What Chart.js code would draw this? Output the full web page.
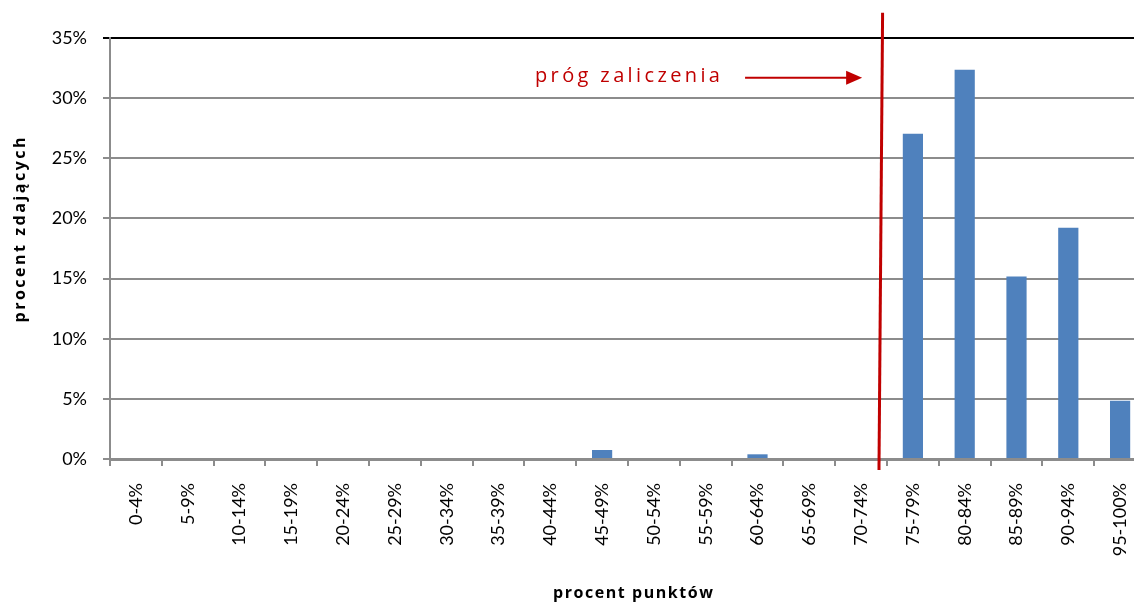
<!DOCTYPE html>
<html>
<head>
<meta charset="utf-8">
<script src="https://cdn.jsdelivr.net/npm/chart.js@4/dist/chart.umd.min.js"></script>
<style>
  html, body { margin: 0; padding: 0; background: #fff; overflow: hidden; }
  #wrap { width: 1146px; height: 603px; position: relative; }
</style>
</head>
<body>
<div id="wrap"><canvas id="c"></canvas></div>
<script>
// ---- data ----
const categories = ['0-4%','5-9%','10-14%','15-19%','20-24%','25-29%','30-34%','35-39%','40-44%','45-49%',
  '50-54%','55-59%','60-64%','65-69%','70-74%','75-79%','80-84%','85-89%','90-94%','95-100%'];
const percentOfTakers = [0,0,0,0,0,0,0,0,0,0.75,0,0,0.39,0,0,27.04,32.36,15.17,19.22,4.85];
const yTicks = [0,5,10,15,20,25,30,35];
const yAxisTitle = 'procent zdających';
const xAxisTitle = 'procent punktów';
const thresholdLabel = 'próg zaliczenia';
// threshold line & label positions in data units (category index, percent)
const thresholdLineTop = [14.415, 37.1];
const thresholdLineBottom = [14.345, -0.92];
const thresholdTextPos = [9.49, 31.85];
const thresholdArrowFrom = [11.76, 31.7];
const thresholdArrowTo = [14.02, 31.7];

const FONT = 'Lato, "Open Sans", sans-serif';
const TITLE_FONT = '"Open Sans", Lato, sans-serif';
const RED = '#c00000';

function spacedText(ctx, text, cx, cy, targetWidth) {
  // draw centered text spread to a given total width
  const chars = [...text];
  const widths = chars.map(c => ctx.measureText(c).width);
  const natural = widths.reduce((a, b) => a + b, 0);
  const spacing = Math.max(0, (targetWidth - natural) / (chars.length - 1));
  const total = natural + spacing * (chars.length - 1);
  let x = cx - total / 2;
  ctx.textAlign = 'left';
  chars.forEach((c, i) => { ctx.fillText(c, x, cy); x += widths[i] + spacing; });
}

const overlay = {
  id: 'overlay',
  afterDraw(chart) {
    const ctx = chart.ctx, x = chart.scales.x, y = chart.scales.y;
    ctx.save();
    // axis titles
    ctx.fillStyle = '#000';
    ctx.font = 'bold 16px ' + TITLE_FONT;
    ctx.textBaseline = 'middle';
    spacedText(ctx, xAxisTitle, 633, 593, 160);
    ctx.save();
    ctx.translate(20, 230);
    ctx.rotate(-Math.PI / 2);
    spacedText(ctx, yAxisTitle, 0, 0, 185);
    ctx.restore();

    // threshold label
    ctx.fillStyle = RED;
    ctx.font = '20px ' + TITLE_FONT;
    spacedText(ctx, thresholdLabel, x.getPixelForValue(thresholdTextPos[0]), y.getPixelForValue(thresholdTextPos[1]), 185);

    // arrow
    const ax1 = x.getPixelForValue(thresholdArrowFrom[0]), ay = y.getPixelForValue(thresholdArrowFrom[1]);
    const ax2 = x.getPixelForValue(thresholdArrowTo[0]);
    ctx.strokeStyle = RED;
    ctx.lineWidth = 2;
    ctx.beginPath();
    ctx.moveTo(ax1, ay);
    ctx.lineTo(ax2 - 12, ay);
    ctx.stroke();
    ctx.beginPath();
    ctx.moveTo(ax2, ay);
    ctx.lineTo(ax2 - 16, ay - 7);
    ctx.lineTo(ax2 - 16, ay + 7);
    ctx.closePath();
    ctx.fill();

    // threshold line
    ctx.lineWidth = 3;
    ctx.beginPath();
    ctx.moveTo(x.getPixelForValue(thresholdLineTop[0]), y.getPixelForValue(thresholdLineTop[1]));
    ctx.lineTo(x.getPixelForValue(thresholdLineBottom[0]), y.getPixelForValue(thresholdLineBottom[1]));
    ctx.stroke();
    ctx.restore();
  }
};

new Chart(document.getElementById('c'), {
  type: 'bar',
  data: {
    labels: categories,
    datasets: [{
      data: percentOfTakers,
      backgroundColor: '#4f81bd',
      borderWidth: 0,
      barPercentage: 0.39,
      categoryPercentage: 1.0
    }]
  },
  options: {
    responsive: true,
    maintainAspectRatio: false,
    animation: false,
    events: [],
    layout: { padding: { top: 38, left: 0, right: 0, bottom: 0 } },
    plugins: { legend: { display: false }, tooltip: { enabled: false } },
    scales: {
      x: {
        offset: true,
        grid: { drawOnChartArea: false, drawTicks: true, tickLength: 7, color: '#8c8c8c', lineWidth: 2, offset: true },
        border: { color: '#8c8c8c', width: 3 },
        ticks: { color: '#000', font: { family: FONT, size: 18 }, minRotation: 90, maxRotation: 90, padding: 17, autoSkip: false },
        afterFit(s) { s.height = 603 - 459; s.paddingLeft = 0; s.paddingRight = 0; }
      },
      y: {
        min: 0, max: 35,
        afterBuildTicks(s) { s.ticks = yTicks.map(v => ({ value: v })); },
        grid: {
          color: ctx => (ctx.tick && ctx.tick.value === 35) ? '#000' : '#8c8c8c',
          lineWidth: 2, tickLength: 7
        },
        border: { color: '#8c8c8c', width: 2 },
        ticks: { color: '#000', font: { family: FONT, size: 18 }, padding: 16, callback: v => v + '%' },
        afterFit(s) { s.width = 110; s.paddingTop = 0; s.paddingBottom = 0; }
      }
    }
  },
  plugins: [overlay]
});
</script>
</body>
</html>
